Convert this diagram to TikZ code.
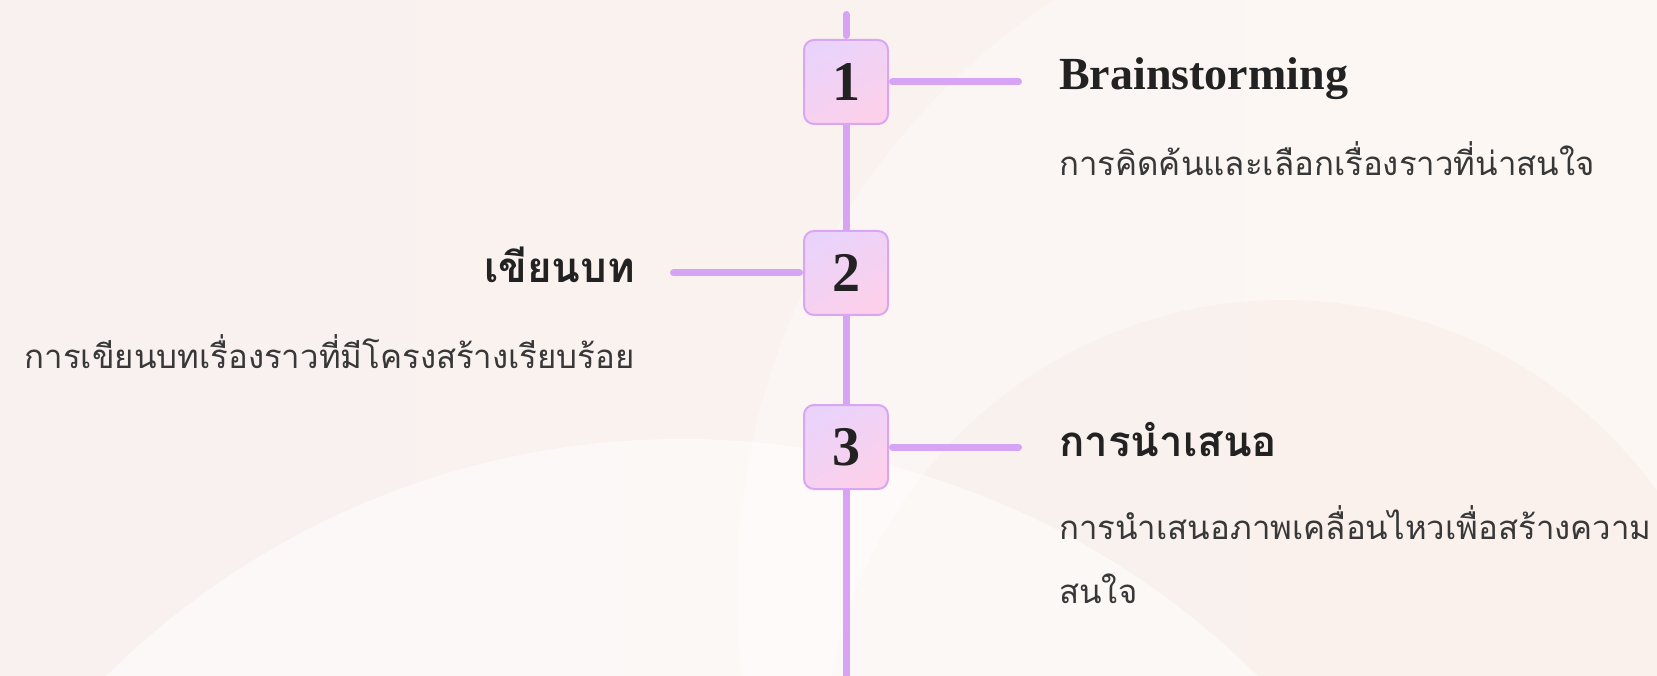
\documentclass[tikz,border=0pt]{standalone}
\usepackage{fontspec}
\setmainfont{Liberation Serif}
\newfontfamily\thaifont[Script=Thai]{Loma}
\definecolor{bgleft}{HTML}{F9F1F0}
\definecolor{bgright}{HTML}{FBF3EC}
\definecolor{humpcol}{HTML}{F9EEEA}
\definecolor{railcol}{HTML}{D7A3F4}
\definecolor{boxedge}{HTML}{D9A5F5}
\definecolor{boxtop}{HTML}{EAD3FB}
\definecolor{boxbot}{HTML}{FCD0EA}
\definecolor{ink}{HTML}{222222}
\tikzset{
  rail/.style={railcol, line width=7pt},
  railend/.style={rail, line cap=round, shorten <=3.5pt, shorten >=3.5pt},
  stepbox/.style={draw=boxedge, line width=2pt, rounded corners=10pt, minimum size=84pt, inner sep=0pt,
    top color=boxtop, bottom color=boxbot, shading angle=30, text=ink, font=\bfseries\fontsize{56}{56}\selectfont},
  entitle/.style={text=ink, inner sep=0pt, font=\bfseries\fontsize{46}{46}\selectfont},
  thtitle/.style={text=ink, inner sep=0pt, font=\thaifont\bfseries\fontsize{42}{42}\selectfont},
  desc/.style={text=ink!90, inner sep=0pt, font=\thaifont\fontsize{33}{33}\selectfont}
}
\begin{document}
\begin{tikzpicture}[x=1pt,y=-1pt]
\useasboundingbox (0,0) rectangle (1657,676);
\shade[left color=bgleft, right color=bgright] (0,0) rectangle (1657,676);
\begin{scope}
\clip (0,0) rectangle (1657,676);
\fill[white, opacity=.35] (1444,590) circle[radius=707];
\fill[humpcol, opacity=.6] (1284,760) circle[radius=460];
\fill[white, opacity=.5] (682,1257) circle[radius=818];
\end{scope}
\node[stepbox] (n1) at (846,82) {1};
\node[stepbox] (n2) at (846,273) {2};
\node[stepbox] (n3) at (846,447) {3};
\coordinate (top) at (846,11);
\coordinate (bot) at (846,690);
\coordinate (e1) at (1022,82);
\coordinate (e2) at (670,273);
\coordinate (e3) at (1022,447);
\draw[railend] (top) -- (n1);
\draw[rail] (n1) -- (n2);
\draw[rail] (n2) -- (n3);
\draw[rail] (n3) -- (bot);
\draw[railend] (n1) -- (e1);
\draw[railend] (n2) -- (e2);
\draw[railend] (n3) -- (e3);
\node[entitle, anchor=base west] (h1) at (1059,90) {Brainstorming};
\node[desc, anchor=base west] (d1) at (1059,176) {การคิดค้นและเลือกเรื่องราวที่น่าสนใจ};
\node[thtitle, anchor=base east] (h2) at (635,283) {เขียนบท};
\node[desc, anchor=base east] (d2) at (635,368) {การเขียนบทเรื่องราวที่มีโครงสร้างเรียบร้อย};
\node[thtitle, anchor=base west] (h3) at (1059,456) {การนำเสนอ};
\node[desc, anchor=base west] (d3) at (1059,539) {การนำเสนอภาพเคลื่อนไหวเพื่อสร้างความ};
\node[desc, anchor=base west] (d3b) at (1059,603) {สนใจ};
\end{tikzpicture}
\end{document}
